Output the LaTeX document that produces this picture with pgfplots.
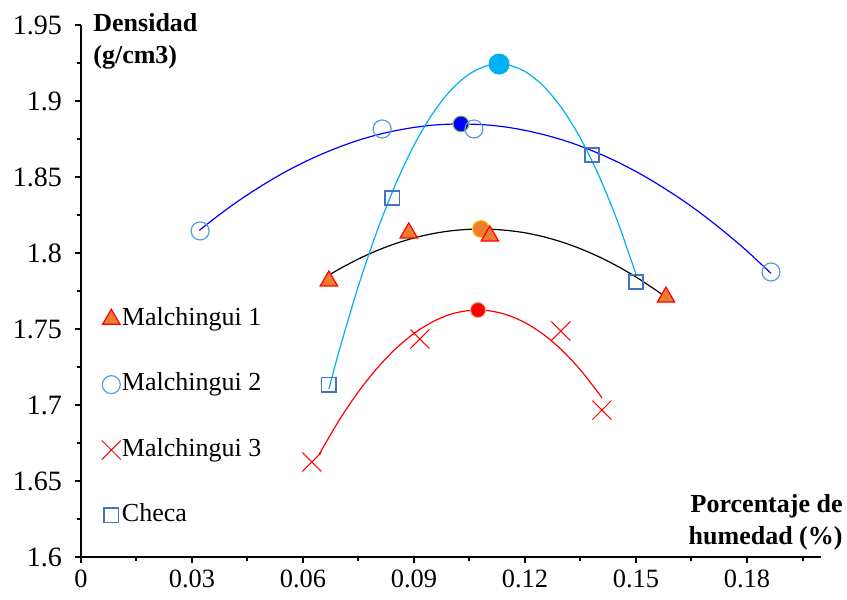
\documentclass[border=0pt]{standalone}
\usepackage{fontspec}
\setmainfont{Liberation Serif}
\usepackage{pgfplots}
\pgfplotsset{compat=1.18}
\definecolor{orng}{HTML}{ED7D31}
\definecolor{stb}{HTML}{5B9BD5}
\definecolor{chk}{HTML}{4472C4}
\definecolor{cyn}{HTML}{00B0F0}
\definecolor{grn}{HTML}{70AD47}
\definecolor{ylw}{HTML}{FFC000}
\definecolor{pnk}{HTML}{F4B183}
\begin{document}
\begin{tikzpicture}
\begin{axis}[
  name=ax,
  width=370pt, height=266pt, scale only axis,
  xmin=0, xmax=0.2, ymin=1.6, ymax=1.95,
  axis x line=bottom, axis y line=left,
  axis line style={-, line width=1pt},
  xtick={0,0.03,0.06,0.09,0.12,0.15,0.18},
  minor xtick={0.015,0.045,0.075,0.105,0.135,0.165,0.195},
  ytick={1.6,1.65,1.7,1.75,1.8,1.85,1.9,1.95},
  minor ytick={1.625,1.675,1.725,1.775,1.825,1.875,1.925},
  tick align=outside,
  major tick length=3pt, minor tick length=2pt,
  every tick/.style={line width=1pt, black},
  scaled x ticks=false, scaled y ticks=false,
  xticklabel={\pgfmathprintnumber[assume math mode=true,fixed,precision=2]{\tick}},
  yticklabel={\pgfmathprintnumber[assume math mode=true,fixed,precision=2]{\tick}},
  xticklabel style={font=\rmfamily\fontsize{13.2}{15}\selectfont},
  yticklabel style={font=\rmfamily\fontsize{14}{16}\selectfont, xshift=-3pt},
  clip=false,
  legend style={
    at={(axis description cs:0.0195,0.48)}, anchor=north west,
    draw=none, fill=none,
    font=\rmfamily\fontsize{13}{15}\selectfont,
    row sep=19.5pt,
    nodes={inner sep=0.6pt, text height=9pt, text depth=3pt},
  },
  legend cell align=left,
  legend image code/.code={\draw[#1] plot coordinates {(0pt,0pt)};},
]
% fitted curves
\addplot[black, line width=0.6pt, smooth, forget plot] coordinates {
 (0.067,1.7854) (0.07,1.7897) (0.075,1.7961) (0.08,1.8016) (0.085,1.8062) (0.09,1.8099) (0.095,1.8127) (0.1,1.8146) (0.105,1.8156) (0.11,1.8157) (0.115,1.8149) (0.12,1.8133) (0.125,1.8107) (0.13,1.8072) (0.135,1.8028) (0.14,1.7975) (0.145,1.7913) (0.15,1.7842) (0.155,1.7762) (0.158,1.7710)};
\addplot[blue, line width=0.6pt, smooth, forget plot] coordinates {
 (0.032,1.8149) (0.035,1.8207) (0.04,1.8299) (0.045,1.8383) (0.05,1.8460) (0.055,1.8531) (0.06,1.8594) (0.065,1.8650) (0.07,1.8699) (0.075,1.8742) (0.08,1.8777) (0.085,1.8805) (0.09,1.8826) (0.095,1.8841) (0.1,1.8848) (0.105,1.8848) (0.11,1.8842) (0.115,1.8828) (0.12,1.8807) (0.125,1.8779) (0.13,1.8745) (0.135,1.8703) (0.14,1.8654) (0.145,1.8599) (0.15,1.8536) (0.155,1.8466) (0.16,1.8389) (0.165,1.8306) (0.17,1.8215) (0.175,1.8117) (0.18,1.8013) (0.1865,1.7866)};
\addplot[red, line width=0.6pt, smooth, forget plot] coordinates {
 (0.0643,1.6673) (0.07,1.6909) (0.075,1.7088) (0.08,1.7241) (0.085,1.7369) (0.09,1.7471) (0.095,1.7547) (0.1,1.7598) (0.105,1.7622) (0.11,1.7621) (0.115,1.7594) (0.12,1.7542) (0.125,1.7464) (0.13,1.7360) (0.135,1.7230) (0.14,1.7074) (0.1408,1.7047)};
\addplot[cyn, line width=0.6pt, smooth, forget plot] coordinates {
 (0.067,1.7106) (0.07,1.7376) (0.075,1.7785) (0.08,1.8143) (0.085,1.8451) (0.09,1.8709) (0.095,1.8916) (0.1,1.9072) (0.105,1.9178) (0.11,1.9234) (0.115,1.9239) (0.12,1.9194) (0.125,1.9098) (0.13,1.8951) (0.135,1.8754) (0.14,1.8507) (0.145,1.8209) (0.15,1.7860)};
% maxima
\addplot[only marks, mark=*, mark size=4.2pt, mark options={fill=orng, draw=ylw, line width=0.5pt}, forget plot] coordinates {(0.1081,1.8158)};
\addplot[only marks, mark=*, mark size=3.9pt, mark options={fill=blue, draw=grn, line width=0.5pt}, forget plot] coordinates {(0.1027,1.8849)};
\addplot[only marks, mark=*, mark size=3.8pt, mark options={fill=red, draw=pnk, line width=0.5pt}, forget plot] coordinates {(0.1073,1.7625)};
\addplot[only marks, mark=*, mark size=5pt, mark options={fill=cyn, draw=cyn, line width=0.5pt}, forget plot] coordinates {(0.1130,1.9243)};
% data
\addplot[only marks, mark=triangle*, mark size=5pt, mark options={fill=orng, draw=red, line width=0.6pt}] coordinates {
 (0.0670,1.7816) (0.0886,1.8132) (0.1105,1.8112) (0.1581,1.7710)};
\addlegendentry{Malchingui 1}
\addplot[only marks, mark=o, mark size=4.5pt, mark options={draw=stb, line width=0.6pt}] coordinates {
 (0.0322,1.8145) (0.0814,1.8816) (0.1062,1.8816) (0.1865,1.7875)};
\addlegendentry{Malchingui 2}
\addplot[only marks, mark=x, mark size=6.7pt, mark options={draw=red, line width=0.5pt}] coordinates {
 (0.0624,1.6625) (0.0916,1.7434) (0.1297,1.7487) (0.1408,1.6967)};
\addlegendentry{Malchingui 3}
\addplot[only marks, mark=square, mark size=3.6pt, mark options={draw=chk, line width=0.75pt}] coordinates {
 (0.0670,1.7132) (0.0841,1.8362) (0.1381,1.8645) (0.1500,1.7809)};
\addlegendentry{Checa}
% axis titles
\node[anchor=north west, align=left, inner sep=0pt, font=\bfseries\fontsize{13}{16}\selectfont]
  at (axis description cs:0.0162,1.0226) {Densidad\\(g/cm3)};
\node[anchor=north east, align=right, inner sep=0pt, font=\bfseries\fontsize{13}{16}\selectfont]
  at (axis description cs:1.0297,0.118) {Porcentaje de\\humedad (\%)};
\end{axis}
\pgfresetboundingbox
\path[use as bounding box] ([xshift=-40.5pt,yshift=-21.5pt]ax.south west) rectangle ([xshift=13pt,yshift=12.5pt]ax.north east);
\end{tikzpicture}
\end{document}
